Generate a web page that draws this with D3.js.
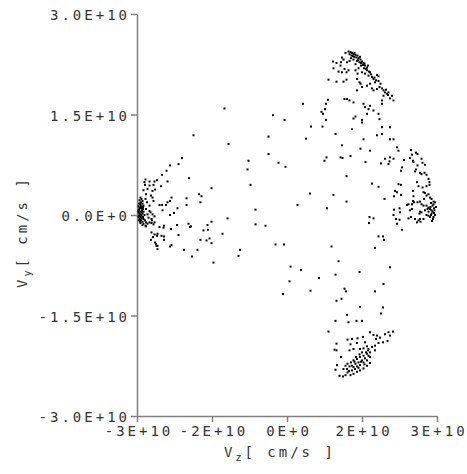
<!DOCTYPE html>
<html>
<head>
<meta charset="utf-8">
<script src="https://cdn.jsdelivr.net/npm/d3@7/dist/d3.min.js"></script>
<style>
  body { margin: 0; background: #fff; }
  text { font-family: "DejaVu Sans Mono", monospace; font-size: 14px; fill: #333; letter-spacing: 3px; }
</style>
</head>
<body>
<svg id="chart" width="467" height="474"></svg>
<script>
// values in units of 1E+10 cm/s, [Vz, Vy]
const leftCluster = [
  [-2.83,0.53],[-2.85,0.49],[-2.75,0.50],[-2.65,0.50],[-2.60,0.52],[-2.84,0.45],[-2.75,0.44],[-2.67,0.45],
  [-2.87,0.37],[-2.79,0.39],[-2.69,0.36],[-2.64,0.38],[-2.82,0.31],[-2.72,0.29],[-2.83,0.24],[-2.69,0.26],[-2.67,0.21],
  [-2.93,0.26],[-2.91,0.24],[-2.95,0.22],[-2.89,0.21],[-2.92,0.19],[-2.96,0.17],[-2.89,0.17],[-2.93,0.15],
  [-2.87,0.14],[-2.97,0.13],[-2.91,0.12],[-2.94,0.10],[-2.88,0.09],[-2.96,0.08],[-2.90,0.07],[-2.93,0.05],
  [-2.87,0.05],[-2.97,0.04],[-2.95,0.02],[-2.89,0.02],[-2.92,0.00],[-2.85,0.00],[-2.96,-0.01],[-2.93,-0.03],
  [-2.88,-0.03],[-2.91,-0.05],[-2.95,-0.06],[-2.87,-0.06],[-2.92,-0.08],[-2.84,-0.08],[-2.89,-0.10],[-2.93,-0.12],
  [-2.82,-0.11],[-2.87,-0.13],[-2.79,-0.13],[-2.75,-0.11],[-2.71,-0.12],[-2.67,-0.14],[-2.83,-0.16],[-2.89,-0.15],
  [-2.97,0.06],[-2.95,0.11],[-2.93,0.18],[-2.97,-0.03],[-2.95,0.03],[-2.91,-0.01],[-2.90,0.10],[-2.92,0.13],
  [-2.96,-0.08],[-2.94,-0.10],[-2.90,0.04],[-2.88,0.12],
  [-2.80,0.19],[-2.75,0.14],[-2.82,0.09],[-2.75,0.06],[-2.79,0.01],[-2.69,0.01],[-2.73,0.04],[-2.77,-0.04],
  [-2.71,-0.06],[-2.65,-0.02],[-2.82,-0.17],[-2.70,-0.08],[-2.65,-0.11],[-2.71,-0.26],[-2.65,-0.29],[-2.68,-0.33],
  [-2.60,-0.31],[-2.72,-0.37],[-2.64,-0.41],[-2.61,-0.46]
];
const leftWing = [
  [-2.10,0.85],[-2.17,0.76],[-2.34,0.74],[-2.41,0.66],[-2.50,0.60],[-1.96,0.55],[-2.39,0.50],[-2.52,0.43],
  [-1.51,0.40],[-1.76,0.31],[-1.71,0.28],[-2.31,0.26],[-2.34,0.21],[-2.39,0.19],[-2.01,0.25],[-1.73,0.19],
  [-2.42,0.15],[-2.01,0.15],[-2.55,0.15],[-2.50,0.15],[-2.19,0.10],[-2.26,0.03],[-2.34,0.00],[-2.49,0.07],
  [-1.51,-0.10],[-1.59,-0.15],[-1.97,-0.13],[-1.94,-0.18],[-1.92,-0.17],[-2.20,-0.15],[-2.32,-0.21],[-2.55,-0.18],
  [-2.47,-0.19],[-2.46,-0.16],[-1.67,-0.23],[-1.58,-0.22],[-2.59,-0.28],[-2.51,-0.31],[-2.46,-0.32],[-2.17,-0.30],
  [-2.46,-0.37],[-1.73,-0.37],[-1.61,-0.38],[-1.55,-0.35],[-1.51,-0.42],[-2.62,-0.43],[-2.59,-0.46],[-2.31,-0.45],
  [-2.34,-0.47],[-2.59,-0.51],[-2.06,-0.52],[-1.79,-0.52],[-1.90,-0.62],[-1.47,-0.71]
];
const middle = [
  [-1.25,1.59],[0.32,1.66],[0.82,1.72],[0.78,1.66],[0.76,1.58],[0.69,1.54],[0.72,1.51],[0.78,1.42],
  [-0.28,1.49],[-0.05,1.42],[0.48,1.32],[0.71,1.32],[-0.37,1.17],[0.38,1.14],[-1.17,1.06],[-0.37,0.91],
  [-0.17,0.78],[-0.03,0.72],[0.79,0.86],[0.75,0.81],[-0.77,0.81],[-0.79,0.68],[-0.73,0.45],[0.46,0.32],
  [0.21,0.15],[0.80,0.10],[-0.63,0.08],[-1.19,-0.05],[-0.63,-0.14],[-0.43,-0.16],[-1.29,-0.28],[-0.23,-0.44],
  [-0.06,-0.44],[-0.94,-0.52],[-0.97,-0.61],[0.89,-0.47],[1.03,-0.69],[0.07,-0.77],[0.28,-0.82],[0.97,-0.89],
  [0.05,-0.99],[0.64,-0.94],[-1.87,1.19],[-0.08,-1.18],[0.47,-1.13]
];
const upperLobe = [
  [1.17,2.42],[1.23,2.44],[1.27,2.43],[1.30,2.42],[1.33,2.40],[1.37,2.39],[1.32,2.37],[1.39,2.35],[1.41,2.38],
  [1.43,2.34],[1.47,2.32],[1.40,2.30],[1.45,2.28],[1.50,2.29],[1.53,2.27],[1.52,2.24],[1.48,2.23],[1.56,2.23],
  [1.60,2.20],[1.54,2.19],[1.43,2.19],[1.37,2.25],[1.33,2.32],[1.28,2.34],[1.25,2.30],[1.20,2.28],[1.13,2.32],
  [1.10,2.35],[1.08,2.28],[1.07,2.23],[1.15,2.18],[1.23,2.16],[1.19,2.13],[1.10,2.13],[1.03,2.14],[0.99,2.27],
  [0.92,2.29],[0.93,2.19],[0.83,2.02],[0.99,1.99],[1.13,1.99],[1.19,2.02],[1.37,2.16],[1.41,2.11],[1.50,2.13],
  [1.56,2.11],[1.60,2.16],[1.66,2.13],[1.63,2.08],[1.70,2.06],[1.73,2.03],[1.80,2.09],[1.83,2.07],[1.76,1.98],
  [1.83,2.00],[1.40,2.03],[1.45,1.98],[1.50,1.91],[1.40,1.86],[1.47,1.96],[1.60,1.93],[1.66,1.96],[1.70,1.89],
  [1.73,1.86],[1.80,1.88],[1.85,1.91],[1.90,1.89],[1.93,1.86],[1.96,1.83],[2.00,1.81],[2.03,1.83],[1.93,1.78],
  [2.06,1.74],[2.10,1.78],[2.13,1.71],[1.90,1.71],[1.90,1.66],[1.20,1.73],[1.15,1.73],[1.25,1.71],[1.33,1.68],
  [1.53,1.66],[1.56,1.61],[1.63,1.58],[1.73,1.56],[1.60,1.51],[1.66,1.63],[1.83,1.51],[1.85,1.43],[1.33,1.44],
  [1.37,1.47],[1.50,1.42],[1.50,1.38],[1.30,1.28],[1.90,1.31],[2.06,1.31],[1.80,1.19],[1.90,1.21],[2.06,1.13],
  [2.13,1.13],[1.53,1.13],[1.10,1.04],[0.97,1.21],[1.47,0.99],[1.66,0.96],[2.20,1.01],[2.23,0.96],[1.07,0.86],
  [1.27,0.88],[2.06,0.86],[2.13,0.84],
  [1.25,2.40],[1.35,2.36],[1.42,2.31],[1.48,2.27],[1.58,2.18],[1.64,2.14],[1.68,2.10],[1.75,2.05],[1.78,2.01],
  [1.35,2.42],[1.29,2.38],[1.46,2.36],[1.55,2.26],[1.62,2.23],[1.87,1.96],[1.98,1.87],[2.02,1.79]
];
const rightLobe = [
  [1.11,0.85],[2.48,0.97],[2.50,0.90],[2.46,0.85],[2.58,0.93],[2.61,0.91],[1.96,0.84],[2.05,0.80],[1.88,0.77],
  [1.57,0.79],[2.03,0.76],[2.52,0.81],[2.53,0.79],[2.34,0.82],[2.69,0.84],[2.71,0.78],[2.76,0.75],[2.61,0.74],
  [2.58,0.68],[2.56,0.65],[2.30,0.71],[2.28,0.66],[2.66,0.63],[2.69,0.61],[2.75,0.63],[2.79,0.60],[2.83,0.54],
  [2.85,0.49],[2.79,0.43],[2.85,0.45],[1.19,0.58],[1.70,0.47],[1.83,0.42],[2.23,0.46],[2.28,0.45],[2.16,0.36],
  [2.20,0.34],[2.28,0.30],[2.14,0.28],[2.60,0.49],[2.63,0.43],[2.52,0.36],[2.53,0.28],[2.71,0.41],[2.73,0.34],
  [2.76,0.33],[2.79,0.29],[2.74,0.24],[2.83,0.31],[2.86,0.26],[2.89,0.24],[2.93,0.20],[2.88,0.18],[2.96,0.19],
  [2.52,0.21],[2.54,0.19],[2.50,0.16],[2.40,0.15],[2.43,0.16],[2.61,0.19],[2.66,0.20],[2.69,0.16],[2.73,0.14],
  [2.79,0.14],[2.83,0.11],[2.91,0.14],[2.94,0.10],[2.86,0.09],[2.89,0.07],[2.83,0.05],[2.76,0.07],[2.66,0.05],
  [2.69,0.04],[2.65,0.02],[2.79,0.00],[2.89,0.02],[2.94,0.03],[2.86,-0.03],[2.83,-0.01],[2.93,-0.03],[2.50,0.09],
  [2.46,0.07],[2.48,-0.03],[2.43,-0.05],[2.56,-0.06],[2.63,-0.08],[2.66,-0.06],[2.73,-0.06],[2.60,-0.11],[2.67,-0.10],
  [2.14,0.08],[2.25,0.10],[2.26,0.04],[2.13,0.00],[2.18,-0.06],[2.25,-0.07],[2.20,-0.13],[2.30,-0.22],[0.93,0.30],
  [1.19,0.20],[1.95,0.24],[1.65,-0.03],[1.73,-0.05],[1.64,-0.12],[1.83,-0.32],[1.92,-0.32],[1.94,-0.37],[1.76,-0.49],
  [2.06,-0.78],[1.45,-0.85],[1.93,-1.03],[1.15,-1.10],[1.18,-1.14],[1.76,-1.14],
  [2.91,0.05],[2.95,0.07],[2.88,0.00],[2.92,-0.06],[2.90,-0.09],[2.96,0.00],[2.87,0.12],[2.81,0.09],[2.93,0.16],[2.98,0.12]
];
const lowerLobe = [
  [0.99,-1.28],[1.09,-1.25],[1.46,-1.37],[1.92,-1.38],[1.88,-1.47],[1.20,-1.49],[0.97,-1.58],[1.23,-1.60],[1.39,-1.58],
  [1.50,-1.58],[0.83,-1.74],[1.66,-1.75],[0.99,-1.92],[1.21,-1.86],[1.30,-1.85],[1.41,-1.84],[1.52,-1.82],[1.56,-1.90],
  [1.40,-1.91],[1.27,-1.93],[1.73,-1.79],[1.80,-1.80],[1.78,-1.85],[1.86,-1.83],[1.96,-1.78],[2.03,-1.75],[2.06,-1.80],
  [2.12,-1.74],[2.01,-1.88],[1.92,-1.90],[1.83,-1.91],[1.76,-1.95],[1.70,-1.97],[1.63,-2.00],[1.60,-1.96],[1.53,-1.99],
  [1.46,-2.00],[1.33,-2.00],[1.25,-2.02],[0.95,-2.01],[0.99,-2.02],[1.76,-2.02],[1.66,-2.05],[1.60,-2.07],[1.53,-2.10],
  [1.46,-2.12],[1.40,-2.15],[1.33,-2.17],[1.28,-2.20],[1.21,-2.22],[1.17,-2.25],[1.25,-2.26],[1.33,-2.27],[1.40,-2.26],
  [1.46,-2.24],[1.53,-2.20],[1.60,-2.17],[1.66,-2.12],[1.63,-2.10],[1.56,-2.14],[1.50,-2.17],[1.43,-2.20],[1.37,-2.22],
  [1.30,-2.32],[1.21,-2.35],[1.27,-2.39],[1.17,-2.39],[1.12,-2.41],[1.05,-2.40],[0.97,-2.31],[1.00,-2.24],[1.08,-2.12],
  [1.46,-2.32],[1.53,-2.29],[1.60,-2.25],[1.66,-2.21],[1.13,-2.30],[1.33,-2.37],[1.40,-2.34],[1.20,-2.30],
  [1.36,-2.30],[1.43,-2.28],[1.48,-2.19],[1.55,-2.23],[1.30,-2.25],[1.24,-2.33],[1.38,-2.12],[1.58,-2.05],
  [1.50,-2.05],[1.62,-2.02],[1.45,-2.08],[1.35,-2.19]
];

const xTicks = [-3, -1.5, 0, 1.5, 3];
const xTickLabels = ["-3E+10", "-2E+10", "0E+0", "2E+10", "3E+10"];
const yTicks = [-3, -1.5, 0, 1.5, 3];
const yTickLabels = ["-3.0E+10", "-1.5E+10", "0.0E+0", "1.5E+10", "3.0E+10"];

const svg = d3.select("#chart");
const x = d3.scaleLinear().domain([-3, 3]).range([137, 437]);
const y = d3.scaleLinear().domain([-3, 3]).range([416, 14]);

const axisColor = "#808080";

// y axis
const yAxis = svg.append("g")
  .attr("transform", "translate(137,0)")
  .call(d3.axisLeft(y).tickValues(yTicks).tickSize(6).tickSizeOuter(0)
    .tickFormat((d, i) => yTickLabels[i]));
// x axis
const xAxis = svg.append("g")
  .attr("transform", "translate(0,416)")
  .call(d3.axisBottom(x).tickValues(xTicks).tickSize(6).tickSizeOuter(0)
    .tickFormat((d, i) => xTickLabels[i]));

[yAxis, xAxis].forEach(g => {
  g.select(".domain").attr("stroke", axisColor).attr("stroke-width", 1.5);
  g.selectAll(".tick line").attr("stroke", axisColor).attr("stroke-width", 1.5);
  g.selectAll(".tick text").attr("fill", "#333").attr("font-size", null).attr("font-family", null);
});
yAxis.selectAll(".tick text").attr("x", -7).attr("dy", "0.4em");
xAxis.selectAll(".tick text").attr("y", 10).attr("dx", "1.5px");

// points
const allPoints = [].concat(leftCluster, leftWing, middle, upperLobe, rightLobe, lowerLobe);
svg.append("g").selectAll("rect")
  .data(allPoints)
  .join("rect")
  .attr("x", d => x(d[0]) - 1)
  .attr("y", d => y(d[1]) - 1)
  .attr("width", 2)
  .attr("height", 2)
  .attr("fill", "#000");

// axis titles
const xt = svg.append("text").attr("x", 224).attr("y", 457);
xt.append("tspan").text("V");
xt.append("tspan").attr("font-size", "10px").attr("dy", 4).text("z");
xt.append("tspan").attr("dy", -4).text("[ cm/s ]");

const yt = svg.append("text").attr("transform", "translate(27,288) rotate(-90)");
yt.append("tspan").text("V");
yt.append("tspan").attr("font-size", "10px").attr("dy", 4).text("y");
yt.append("tspan").attr("dy", -4).text("[ cm/s ]");
</script>
</body>
</html>
